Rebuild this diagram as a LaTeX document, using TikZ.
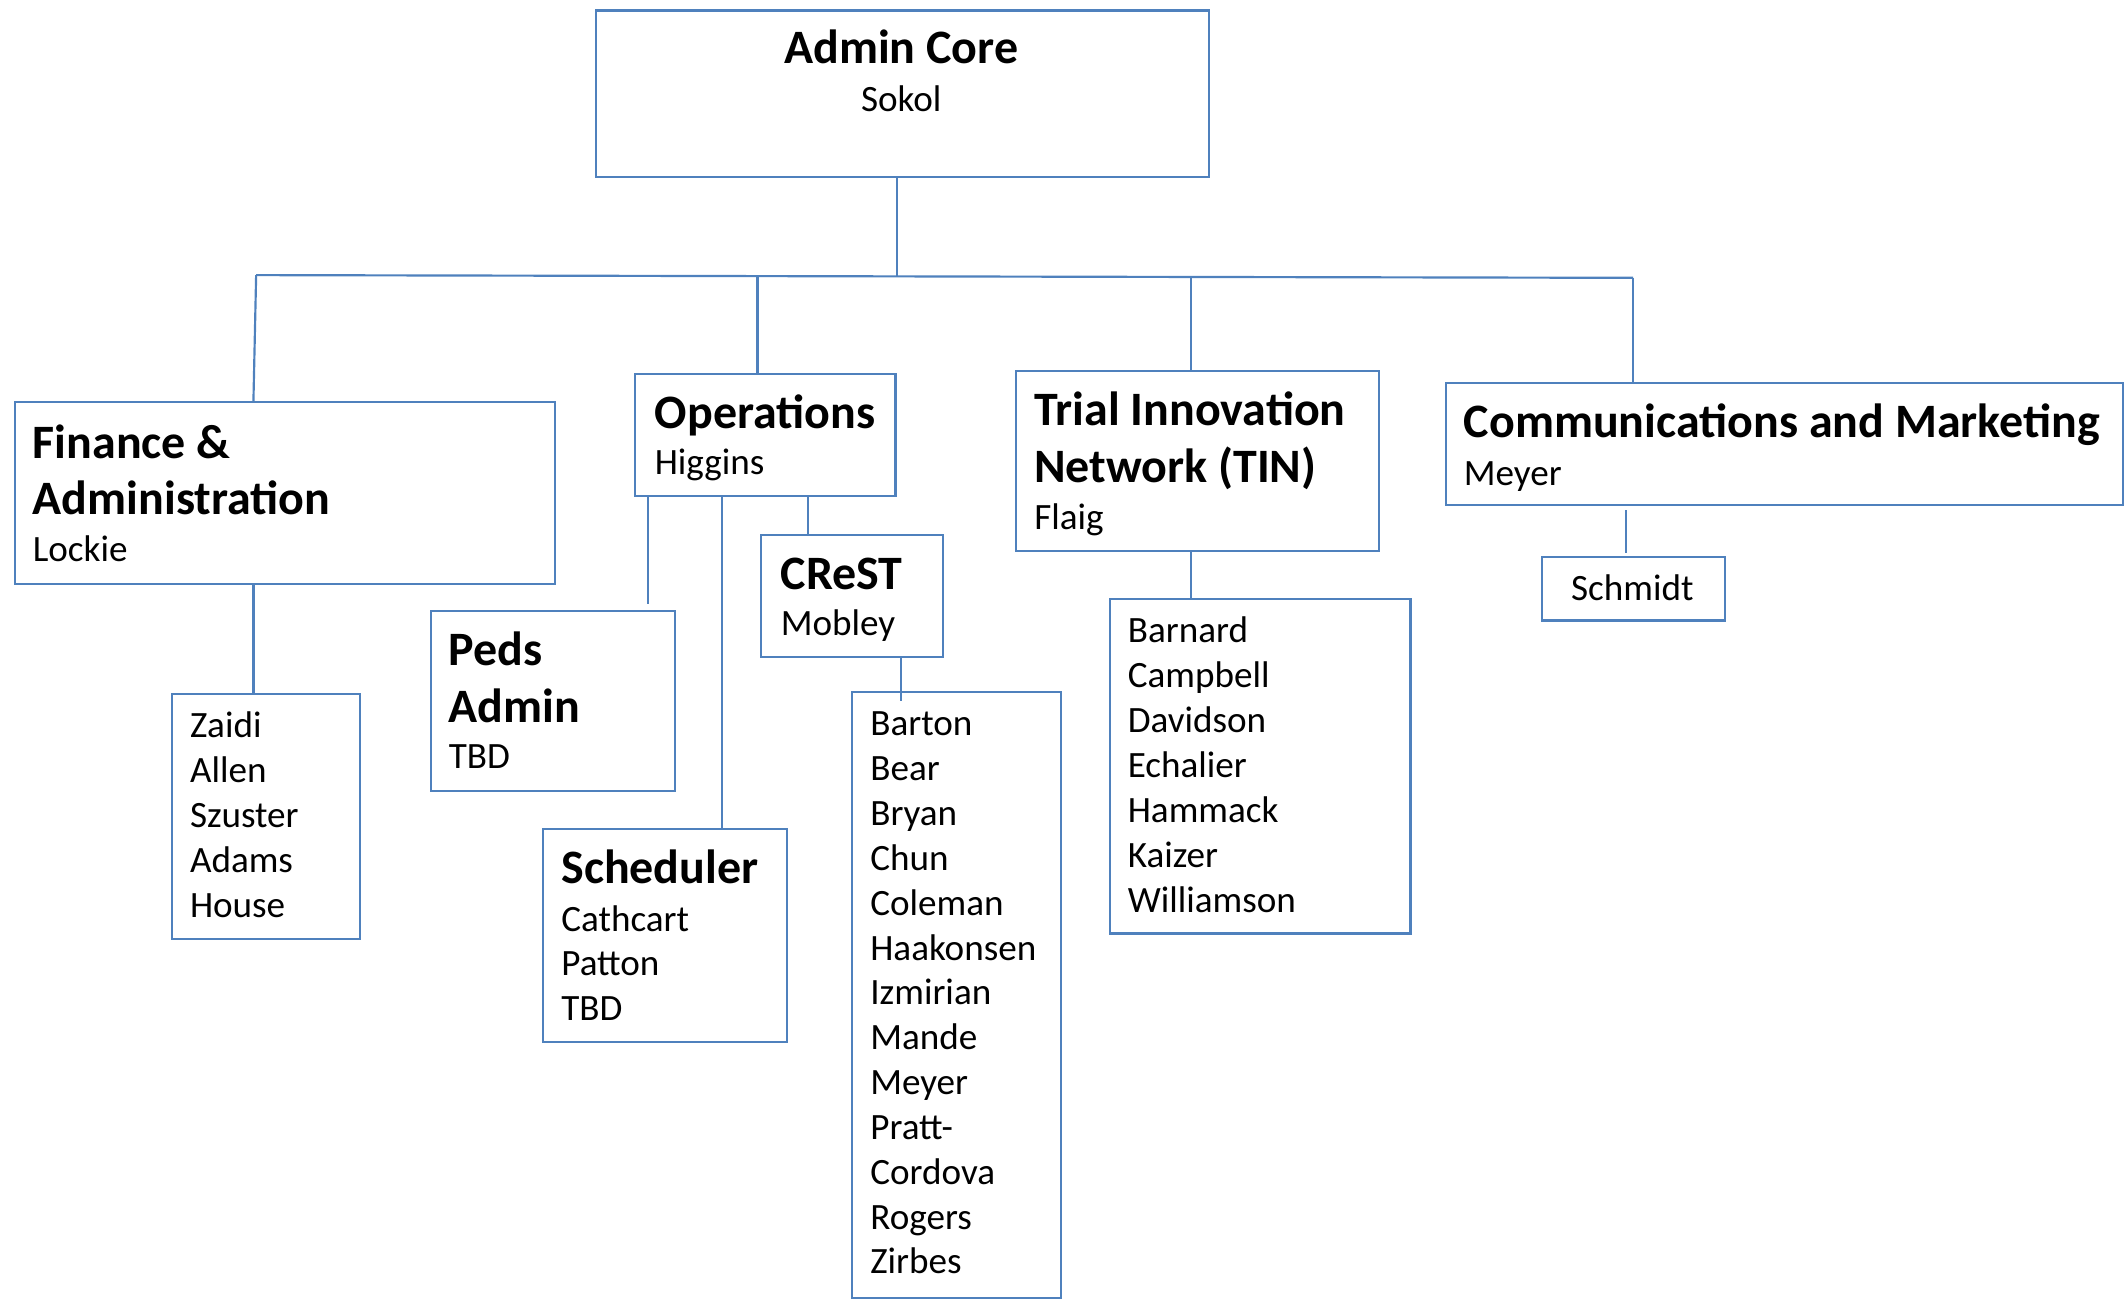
\documentclass[tikz,border=0pt]{standalone}
\usepackage{fontspec}
\setmainfont{Carlito}
\definecolor{bl}{HTML}{4F81BD}
\begin{document}
\begin{tikzpicture}[x=1pt,y=-1pt,
  box/.style={draw=bl, line width=1.6pt, inner sep=0pt, anchor=north west, rectangle},
  ln/.style={draw=bl, line width=1.6pt},
  ttl/.style={anchor=base west, inner sep=0pt, font=\fontsize{35.4}{42}\selectfont\bfseries},
  nm/.style={anchor=base west, inner sep=0pt, font=\fontsize{27.4}{33}\selectfont}]
\useasboundingbox (0,0) rectangle (1568,959);
% boxes
\node[box, minimum width=452pt, minimum height=123pt] (core) at (439,7) {};
\node[box, minimum width=399pt, minimum height=134pt] (fin) at (10,296) {};
\node[box, minimum width=139pt, minimum height=181pt] (finl) at (126,511) {};
\node[box, minimum width=192pt, minimum height=90pt] (ops) at (468,275) {};
\node[box, minimum width=180pt, minimum height=133pt] (peds) at (317,450) {};
\node[box, minimum width=134pt, minimum height=90pt] (crest) at (561,394) {};
\node[box, minimum width=154pt, minimum height=447pt] (crestl) at (628,510) {};
\node[box, minimum width=180pt, minimum height=157pt] (sched) at (400,611) {};
\node[box, minimum width=268pt, minimum height=133pt] (tin) at (749,273) {};
\node[box, minimum width=222pt, minimum height=247pt] (tinl) at (818,441) {};
\node[box, minimum width=500pt, minimum height=90pt] (comm) at (1066,282) {};
\node[box, minimum width=135pt, minimum height=47pt] (schm) at (1137,410) {};
% texts
\node[ttl, anchor=base] (coreT) at (665,47) {Admin Core};
\node[nm, anchor=base] (coreS) at (665,82) {Sokol};
\node[ttl] (finT1) at (24,338) {Finance \&};
\node[ttl] (finT2) at (24,380) {Administration};
\node[nm] (finS) at (24,414) {Lockie};
\foreach \t [count=\i from 0] in {Zaidi,Allen,Szuster,Adams,House}
  \node[nm] (finl\i) at (140,544+33.2*\i) {\t};
\node[ttl] (opsT) at (483,316) {Operations};
\node[nm] (opsS) at (483,350) {Higgins};
\node[ttl] (pedsT1) at (331,491) {Peds};
\node[ttl] (pedsT2) at (331,533) {Admin};
\node[nm] (pedsS) at (331,567) {TBD};
\node[ttl] (crestT) at (576,435) {CReST};
\node[nm] (crestS) at (576,469) {Mobley};
\foreach \t [count=\i from 0] in {Barton,Bear,Bryan,Chun,Coleman,Haakonsen,Izmirian,Mande,Meyer,Pratt-,Cordova,Rogers,Zirbes}
  \node[nm] (crestl\i) at (642,543+33.08*\i) {\t};
\node[ttl] (schedT) at (414,652) {Scheduler};
\foreach \t [count=\i from 0] in {Cathcart,Patton,TBD}
  \node[nm] (sched\i) at (414,687+33*\i) {\t};
\node[ttl] (tinT1) at (763,314) {Trial Innovation};
\node[ttl] (tinT2) at (763,356) {Network (TIN)};
\node[nm] (tinS) at (763,391) {Flaig};
\foreach \t [count=\i from 0] in {Barnard,Campbell,Davidson,Echalier,Hammack,Kaizer,Williamson}
  \node[nm] (tinl\i) at (832,474+33.2*\i) {\t};
\node[ttl] (commT) at (1080,323) {Communications and Marketing};
\node[nm] (commS) at (1080,358) {Meyer};
\node[nm, anchor=base] (schmT) at (1204.5,443) {Schmidt};
% connectors
\coordinate (j0) at (662,204);
\coordinate (bL) at (189,203);
\coordinate (bR) at (1205,205);
\coordinate (j1) at (559,204);
\coordinate (j2) at (879,204);
\coordinate (k1) at (187,0);
\coordinate (k2) at (478,0);
\coordinate (k3) at (533,0);
\coordinate (k4) at (596,0);
\coordinate (k5) at (665,0);
\coordinate (k6) at (879,0);
\coordinate (k7) at (1200,0);
\draw[ln] (core.south -| j0) -- (j0);
\draw[ln] (bL) -- (bR);
\draw[ln] (bL) -- (fin.north -| k1);
\draw[ln] (j1) -- (j1 |- ops.north);
\draw[ln] (j2) -- (j2 |- tin.north);
\draw[ln] (bR) -- (bR |- comm.north);
\draw[ln] (fin.south -| k1) -- (finl.north -| k1);
\draw[ln, shorten >=4pt] (ops.south -| k2) -- (peds.north -| k2);
\draw[ln] (ops.south -| k3) -- (sched.north -| k3);
\draw[ln] (ops.south -| k4) -- (crest.north -| k4);
\draw[ln, shorten >=-7pt] (crest.south -| k5) -- (crestl.north -| k5);
\draw[ln] (tin.south -| k6) -- (tinl.north -| k6);
\draw[ln, shorten <=3pt, shorten >=2pt] (comm.south -| k7) -- (schm.north -| k7);
\end{tikzpicture}
\end{document}
